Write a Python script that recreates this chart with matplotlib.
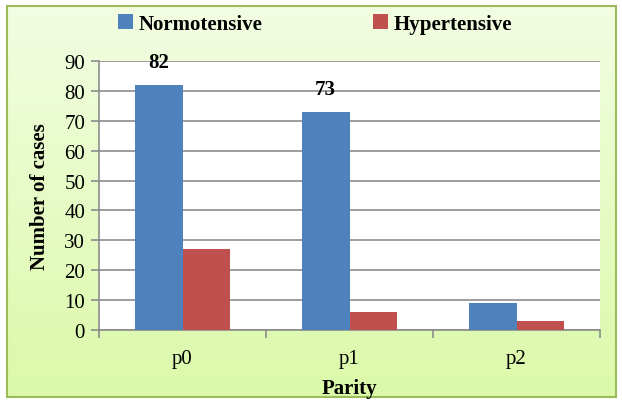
import numpy as np
import matplotlib
matplotlib.use("Agg")
import matplotlib.pyplot as plt
from matplotlib.patches import Rectangle

categories = ["p0", "p1", "p2"]
normotensive = [82, 73, 9]
hypertensive = [27, 6, 3]
label_values = {0: 82, 1: 73}

plt.rcParams['font.family'] = ['Liberation Serif', 'DejaVu Serif']

W, H = 622, 406
fig = plt.figure(figsize=(W/100, H/100), dpi=100)

# background gradient in bordered frame
bg = fig.add_axes([0, 0, 1, 1], zorder=0)
bg.set_xlim(0, W); bg.set_ylim(H, 0); bg.axis('off')
grad = np.linspace(0, 1, 256).reshape(-1, 1)
top = np.array([0xf2, 0xfd, 0xe2]) / 255
bot = np.array([0xdb, 0xf9, 0xa9]) / 255
img = top + (bot - top) * grad[..., None]
img = img.reshape(256, 1, 3)
bg.imshow(img, extent=[7, 616, 398, 7], aspect='auto', interpolation='bilinear')
bg.add_patch(Rectangle((7, 7), 609, 391, fill=False, edgecolor='#9bbb59', lw=1.5))

L, R, T, B = 99, 600, 62, 331
ax = fig.add_axes([L/W, 1 - B/H, (R-L)/W, (B-T)/H], zorder=1)
ax.set_facecolor('white')

x = np.arange(len(categories))
bw = 0.287
b1 = ax.bar(x - bw/2, normotensive, bw, color='#4f81bd', label='Normotensive', zorder=3)
b2 = ax.bar(x + bw/2, hypertensive, bw, color='#c0504d', label='Hypertensive', zorder=3)

for i, v in label_values.items():
    ax.text(x[i] - bw/2, v + 7.7, str(v), ha='center', va='center', fontsize=15,
            fontweight='bold', zorder=4)

ax.set_xlim(-0.5, 2.5)
ax.set_ylim(0, 90)
ax.set_yticks(range(0, 91, 10))
ax.yaxis.grid(True, color='#8c8c8c', lw=1.2, zorder=1)
ax.set_axisbelow(True)
ax.set_xticks(x)
ax.set_xticklabels(categories, fontsize=15)
ax.set_xticks([-0.5, 0.5, 1.5, 2.5], minor=True)
ax.tick_params(axis='x', which='major', length=0, pad=14)
ax.tick_params(axis='x', which='minor', length=6, color='#8c8c8c', width=1.2)
ax.tick_params(axis='y', length=6, color='#8c8c8c', width=1.2, labelsize=15, pad=4)
for s in ['top', 'right']:
    ax.spines[s].set_visible(False)
for s in ['left', 'bottom']:
    ax.spines[s].set_color('#8c8c8c')
    ax.spines[s].set_linewidth(1.2)

ax.set_ylabel('Number of cases', fontsize=15, fontweight='bold', labelpad=10)
ax.set_xlabel('Parity', fontsize=15, fontweight='bold', labelpad=7)

fig.legend(handles=[b1, b2], loc='center left', bbox_to_anchor=(118/W, 1 - 25/H), ncol=2,
           frameon=False, prop={'size': 15, 'weight': 'bold'}, borderaxespad=0, borderpad=0,
           handlelength=0.7, handleheight=0.7, handletextpad=0.3, columnspacing=5.3)

fig.savefig('out.png', dpi=100)
